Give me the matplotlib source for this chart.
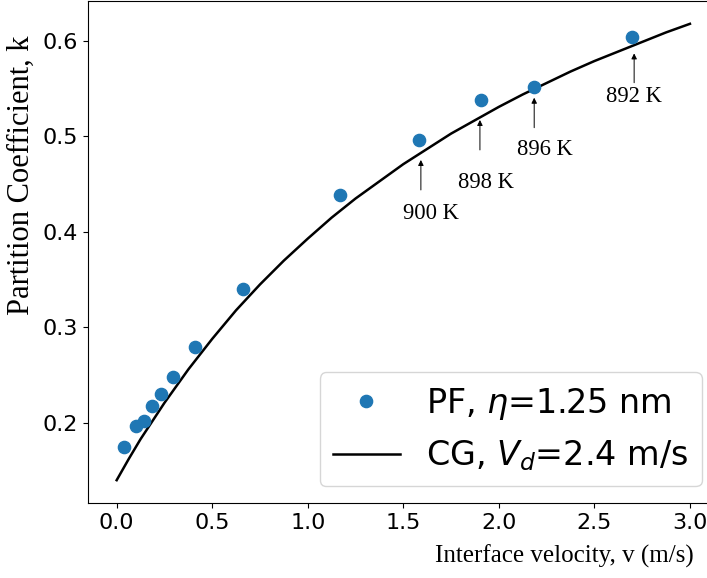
import matplotlib
matplotlib.use("Agg")
import matplotlib.pyplot as plt

# PF data points
pf_v = [0.037, 0.103, 0.141, 0.183, 0.230, 0.297, 0.412, 0.663, 1.171, 1.583, 1.904, 2.185, 2.695]
pf_k = [0.1745, 0.1965, 0.2017, 0.2174, 0.2303, 0.2484, 0.279, 0.3405, 0.4388, 0.496, 0.5379, 0.5521, 0.6046]

# CG curve
cg_v = [0.0, 0.0625, 0.125, 0.25, 0.375, 0.5, 0.625, 0.75, 0.875, 1.0, 1.125, 1.25, 1.375,
        1.5, 1.625, 1.75, 1.875, 2.0, 2.125, 2.25, 2.375, 2.5, 2.625, 2.75, 2.875, 3.0]
cg_k = [0.140, 0.162, 0.183, 0.221, 0.256, 0.288, 0.318, 0.345, 0.370, 0.393, 0.415, 0.435, 0.453,
        0.471, 0.487, 0.503, 0.517, 0.531, 0.544, 0.556, 0.568, 0.579, 0.589, 0.599, 0.609, 0.618]

# Temperature annotations
ann_labels = ["900 K", "898 K", "896 K", "892 K"]
ann_v = [1.592, 1.901, 2.185, 2.708]
ann_tip_k = [0.4754, 0.5173, 0.5406, 0.587]
ann_tail_k = [0.444, 0.4859, 0.5092, 0.5563]
ann_text_v = [1.644, 1.935, 2.241, 2.709]
ann_text_k = [0.419, 0.4519, 0.4859, 0.5416]

W, H = 707, 578
fig = plt.figure(figsize=(W / 100, H / 100), dpi=100)
left, right, top, bottom = 88, 718.6, 1, 503
ax = fig.add_axes([left / W, (H - bottom) / H, (right - left) / W, (bottom - top) / H])

ax.plot(pf_v, pf_k, 'o', color='#1f77b4', markersize=8.8, linestyle='none',
        label=r'PF, $\eta$=1.25 nm', zorder=3)
ax.plot(cg_v, cg_k, '-', color='black', lw=1.8, label=r'CG, $V_d$=2.4 m/s', zorder=2)

for lab, v, tk, tl, tv, tkk in zip(ann_labels, ann_v, ann_tip_k, ann_tail_k, ann_text_v, ann_text_k):
    ax.annotate('', xy=(v, tk), xytext=(v, tl),
                arrowprops=dict(arrowstyle='-|>', color='black', lw=0.7, mutation_scale=8,
                                shrinkA=0, shrinkB=0))
    ax.text(tv, tkk, lab, ha='center', va='center', fontsize=16.3, family='Liberation Serif')

ax.set_xlim(-0.15, 3.15)
ax.set_ylim(0.1161, 0.6419)
ax.set_xticks([0.0, 0.5, 1.0, 1.5, 2.0, 2.5, 3.0])
ax.set_yticks([0.2, 0.3, 0.4, 0.5, 0.6])
ax.tick_params(labelsize=16)

ax.set_xlabel('Interface velocity, v (m/s)', fontsize=18, family='Liberation Serif')
ax.set_ylabel('Partition Coefficient, k', fontsize=22, family='Liberation Serif')
ax.xaxis.set_label_coords(0.755, -0.083)
ax.yaxis.set_label_coords(-0.0835, 0.652)

ax.legend(loc='lower right', fontsize=24)

fig.savefig('out.png', dpi=100)
